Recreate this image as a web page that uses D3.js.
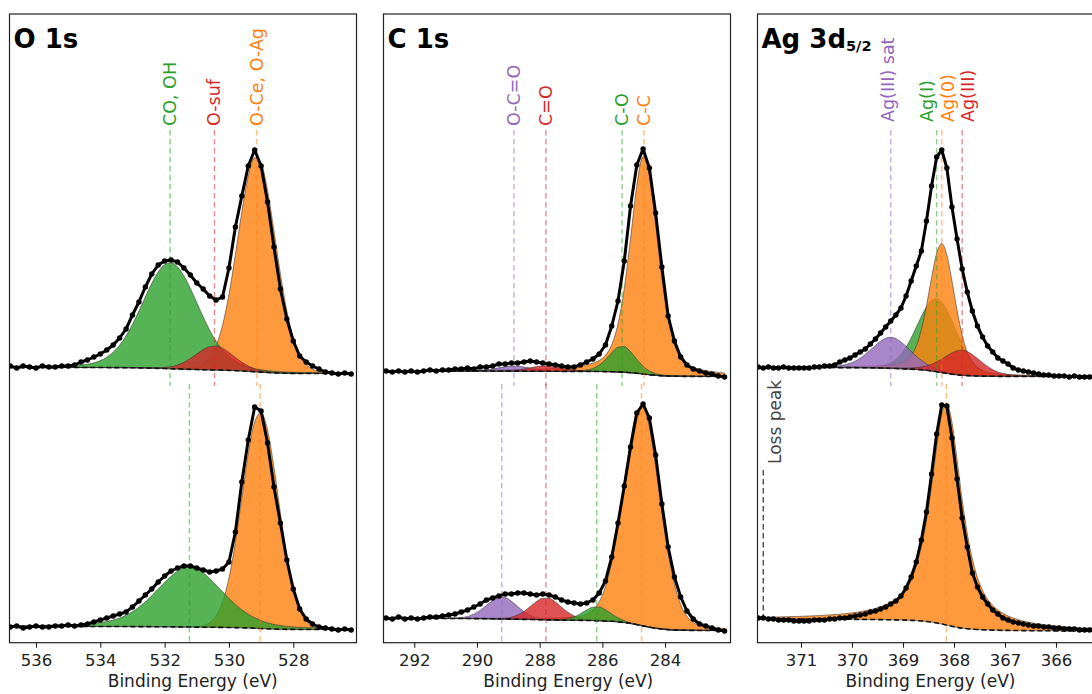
<!DOCTYPE html>
<html><head><meta charset="utf-8">
<script src="https://cdn.jsdelivr.net/npm/d3@7"></script>
<style>
html,body{margin:0;padding:0;background:#fff;overflow:hidden}
svg{display:block;font-family:"DejaVu Sans",sans-serif}
</style></head><body>
<svg id="chart" width="1092" height="694"></svg>
<script>
// ================= DATA (intensity in arbitrary units, spectra stacked with an offset) =================
const o1sEnergy = [536.8,536.6,536.4,536.2,536.0,535.8,535.6,535.4,535.2,535.0,534.8,534.6,534.4,534.2,534.0,533.8,533.6,533.4,533.2,533.0,532.8,532.6,532.4,532.2,532.0,531.8,531.6,531.4,531.2,531.0,530.8,530.6,530.4,530.2,530.0,529.8,529.6,529.4,529.2,529.0,528.8,528.6,528.4,528.2,528.0,527.8,527.6,527.4,527.2,527.0,526.8,526.6,526.4,526.2];
const o1sTopCounts = [277,275,277,276,275,277,276,276,277,277,278,281,283,286,289,293,298,305,314,328,341,356,369,378,382,383,381,375,368,360,354,347,343,346,375,416,447,477,493,477,441,396,354,324,302,287,281,277,274,271,270,269,270,269];
const o1sBottomCounts = [16,17,15,16,17,16,16,17,17,18,17,18,19,21,23,25,27,29,31,36,42,48,54,61,67,72,75,77,77,75,73,71,72,74,81,111,161,203,236,232,200,156,120,83,54,34,24,19,16,15,14,13,14,13];

const c1sEnergy = [292.9,292.7,292.5,292.3,292.1,291.9,291.7,291.5,291.3,291.1,290.9,290.7,290.5,290.3,290.1,289.9,289.7,289.5,289.3,289.1,288.9,288.7,288.5,288.3,288.1,287.9,287.7,287.5,287.3,287.1,286.9,286.7,286.5,286.3,286.1,285.9,285.7,285.5,285.3,285.1,284.9,284.7,284.5,284.3,284.1,283.9,283.7,283.5,283.3,283.1,282.9,282.7,282.5,282.3,282.1];
const c1sTopCounts = [272,271,272,271,272,271,272,273,272,273,273,274,274,275,274,276,276,277,279,279,280,280,281,282,281,280,279,278,277,276,276,278,281,284,289,298,317,342,382,437,478,494,475,430,376,327,302,286,278,274,272,270,269,267,266];
const c1sBottomCounts = [25,24,26,24,25,24,25,26,26,27,28,29,31,33,36,39,43,45,47,49,49,50,50,49,48,49,48,46,43,41,40,39,40,43,50,62,86,120,157,196,230,239,225,188,139,96,66,46,32,24,19,17,15,13,12];

const agEnergy = [371.84,371.74,371.64,371.54,371.44,371.34,371.24,371.14,371.04,370.94,370.84,370.74,370.64,370.54,370.44,370.34,370.24,370.14,370.04,369.94,369.84,369.74,369.64,369.54,369.44,369.34,369.24,369.14,369.04,368.94,368.84,368.74,368.64,368.54,368.44,368.34,368.24,368.14,368.04,367.94,367.84,367.74,367.64,367.54,367.44,367.34,367.24,367.14,367.04,366.94,366.84,366.74,366.64,366.54,366.44,366.34,366.24,366.14,366.04,365.94,365.84,365.74,365.64,365.54,365.44,365.34,365.24];
const agTopCounts = [276,275,276,275,275,276,275,275,275,275,275,276,276,277,277,278,281,283,285,288,291,294,299,304,310,316,322,328,335,347,362,377,392,422,457,486,493,475,436,404,374,351,332,317,306,297,291,285,282,279,275,273,272,271,270,269,268,268,267,267,267,266,267,266,266,266,266];
const agBottomCounts = [25,25,24,24,23,23,23,22,22,22,22,23,23,23,24,24,25,25,26,27,28,29,31,32,34,36,39,42,47,55,66,81,103,131,169,209,238,237,205,164,125,96,70,56,46,39,33,29,25,23,21,20,19,18,17,17,16,16,15,15,14,14,14,13,13,13,13];

// Fitted components (pseudo-Voigt): centre (eV), height, FWHM (eV), Lorentzian fraction. Listed in drawing order.
const o1sTopPeaks = [
  {name:"O-Ce, O-Ag", centre:529.14, height:215, fwhm:1.40, eta:0.05},
  {name:"CO, OH",     centre:531.83, height:106, fwhm:2.05, eta:0.15},
  {name:"O-suf",      centre:530.45, height:24,  fwhm:1.40, eta:0.10}
];
const o1sBottomPeaks = [
  {name:"O-Ce, O-Ag", centre:529.03, height:216, fwhm:1.33, eta:0.00},
  {name:"CO, OH",     centre:531.23, height:60,  fwhm:2.40, eta:0.30}
];
const c1sTopPeaks = [
  {name:"C-C",   centre:284.67, height:218, fwhm:1.05, eta:0.4},
  {name:"C-O",   centre:285.37, height:26,  fwhm:1.00, eta:0.2},
  {name:"O-C=O", centre:288.82, height:5,   fwhm:1.20, eta:0.1},
  {name:"C=O",   centre:287.80, height:5.5, fwhm:1.20, eta:0.1}
];
const c1sBottomPeaks = [
  {name:"C-C",   centre:284.75, height:221, fwhm:1.36, eta:0.15},
  {name:"O-C=O", centre:289.21, height:22,  fwhm:1.15, eta:0.1},
  {name:"C=O",   centre:287.80, height:22,  fwhm:1.15, eta:0.1},
  {name:"C-O",   centre:286.18, height:14,  fwhm:1.00, eta:0.1}
];
const agTopPeaks = [
  {name:"Ag(I)",       centre:368.34, height:73,  fwhm:0.90, eta:0.1},
  {name:"Ag(0)",       centre:368.24, height:129, fwhm:0.60, eta:0.3},
  {name:"Ag(III) sat", centre:369.24, height:31,  fwhm:0.90, eta:0.2},
  {name:"Ag(III)",     centre:367.84, height:25,  fwhm:0.85, eta:0.2}
];
const agBottomPeaks = [
  {name:"Ag(0)", centre:368.15, height:222, fwhm:0.72, eta:0.8}
];
const lossPeak = {name:"Loss peak", energy:371.74, low:25, high:173};

// Shirley background end levels: [high binding energy side, low binding energy side]
const o1sTopBackground = [275.5, 269.5];
const o1sBottomBackground = [16.5, 13.5];
const c1sTopBackground = [272, 266.5];
const c1sBottomBackground = [24.5, 12.5];
const agTopBackground = [275.5, 266.5];
const agBottomBackground = [24, 12];

// Axis ticks
const o1sTicks = [536, 534, 532, 530, 528];
const c1sTicks = [292, 290, 288, 286, 284];
const agTicks = [371, 370, 369, 368, 367, 366];
const o1sDomain = [536.824, 526.034];
const c1sDomain = [292.982, 281.911];
const agDomain = [371.853, 365.049];

// ================= STYLE / LAYOUT =================
const palette = {green:"#2ca02c", orange:"#ff7f0e", red:"#d62728", purple:"#9467bd"};
const peakColour = {
  "CO, OH":"green", "O-suf":"red", "O-Ce, O-Ag":"orange",
  "O-C=O":"purple", "C=O":"red", "C-O":"green", "C-C":"orange",
  "Ag(III) sat":"purple", "Ag(I)":"green", "Ag(0)":"orange", "Ag(III)":"red"
};
const frameTop = 14, frameBottom = 642.7, panelW = 347;
const panels = [
  {title:"O 1s", sub:null, left:9.5, domain:o1sDomain, ticks:o1sTicks, energy:o1sEnergy,
   spectra:[{counts:o1sTopCounts, peaks:o1sTopPeaks, bg:o1sTopBackground, top:true},
            {counts:o1sBottomCounts, peaks:o1sBottomPeaks, bg:o1sBottomBackground, top:false}],
   labelY:126, labelShift:{}, xlabelX:192.7},
  {title:"C 1s", sub:null, left:383.5, domain:c1sDomain, ticks:c1sTicks, energy:c1sEnergy,
   spectra:[{counts:c1sTopCounts, peaks:c1sTopPeaks, bg:c1sTopBackground, top:true},
            {counts:c1sBottomCounts, peaks:c1sBottomPeaks, bg:c1sBottomBackground, top:false}],
   labelY:126, labelShift:{}, xlabelX:568.3},
  {title:"Ag 3d", sub:"5/2", left:757.5, domain:agDomain, ticks:agTicks, energy:agEnergy,
   spectra:[{counts:agTopCounts, peaks:agTopPeaks, bg:agTopBackground, top:true},
            {counts:agBottomCounts, peaks:agBottomPeaks, bg:agBottomBackground, top:false}],
   labelY:122, labelShift:{"Ag(III) sat":-3, "Ag(I)":-10, "Ag(0)":6, "Ag(III)":6}, xlabelX:930.5, loss:lossPeak}
];
const topLine = [130, 386], bottomLine = [384, frameBottom];

// ================= HELPERS =================
function pv(p, e) {
  const t = 4 * (e - p.centre) * (e - p.centre) / (p.fwhm * p.fwhm);
  return p.height * (p.eta / (1 + t) + (1 - p.eta) * Math.exp(-Math.LN2 * t));
}
function shirley(energy, peaks, levels) {
  const tot = energy.map(e => d3.sum(peaks, p => pv(p, e)));
  const n = energy.length, cum = new Array(n).fill(0);
  for (let i = n - 2; i >= 0; i--) cum[i] = cum[i + 1] + (tot[i] + tot[i + 1]) / 2;
  const total = cum[0] || 1;
  return energy.map((e, i) => levels[1] + (levels[0] - levels[1]) * cum[i] / total);
}

// ================= DRAW =================
const svg = d3.select("#chart");
const defs = svg.append("defs");
const y = d3.scaleLinear().domain([0.3, 629]).range([frameBottom, frameTop]);

panels.forEach((P, pi) => {
  const x = d3.scaleLinear().domain(P.domain).range([P.left, P.left + panelW]);
  const clipId = "clip" + pi;
  defs.append("clipPath").attr("id", clipId).append("rect")
    .attr("x", P.left).attr("y", frameTop).attr("width", panelW).attr("height", frameBottom - frameTop);
  const g = svg.append("g");
  const plot = g.append("g").attr("clip-path", `url(#${clipId})`);

  P.spectra.forEach(S => {
    const bg = shirley(P.energy, S.peaks, S.bg);
    const idx = d3.range(P.energy.length);
    S.peaks.forEach(p => {
      const area = d3.area().curve(d3.curveMonotoneX)
        .x(i => x(P.energy[i])).y0(i => y(bg[i])).y1(i => y(bg[i] + pv(p, P.energy[i])));
      plot.append("path").attr("d", area(idx))
        .attr("fill", palette[peakColour[p.name]]).attr("fill-opacity", 0.8)
        .attr("stroke", "#333").attr("stroke-opacity", 0.7).attr("stroke-width", 0.8);
    });
    const bgLine = d3.line().curve(d3.curveMonotoneX).x(i => x(P.energy[i])).y(i => y(bg[i]));
    plot.append("path").attr("d", bgLine(idx)).attr("fill", "none")
      .attr("stroke", "#111").attr("stroke-width", 1.6).attr("stroke-dasharray", "5,3");
    S.peaks.forEach(p => {
      const yy = S.top ? topLine : bottomLine;
      plot.append("line").attr("x1", x(p.centre)).attr("x2", x(p.centre))
        .attr("y1", yy[0]).attr("y2", yy[1])
        .attr("stroke", palette[peakColour[p.name]]).attr("stroke-opacity", 0.5)
        .attr("stroke-width", 1.5).attr("stroke-dasharray", "5.5,3.5");
      if (S.top) {
        const lx = x(p.centre) + (P.labelShift[p.name] || 0);
        g.append("text").attr("transform", `translate(${lx},${P.labelY}) rotate(-90)`)
          .attr("text-anchor", "start").attr("dominant-baseline", "central")
          .attr("font-size", 17.5).attr("fill", palette[peakColour[p.name]]).text(p.name);
      }
    });
  });

  if (P.loss) {
    const lx = x(P.loss.energy);
    plot.append("line").attr("x1", lx).attr("x2", lx).attr("y1", y(P.loss.high)).attr("y2", y(P.loss.low))
      .attr("stroke", "#555").attr("stroke-width", 1.5).attr("stroke-dasharray", "5.5,3.5");
    g.append("text").attr("transform", `translate(${lx + 12},${y(P.loss.high) - 6}) rotate(-90)`)
      .attr("text-anchor", "start").attr("dominant-baseline", "central")
      .attr("font-size", 17).attr("fill", "#444").text(P.loss.name);
  }

  P.spectra.forEach(S => {
    const line = d3.line().x((d, i) => x(P.energy[i])).y(d => y(d));
    plot.append("path").attr("d", line(S.counts)).attr("fill", "none")
      .attr("stroke", "#000").attr("stroke-width", 3).attr("stroke-linejoin", "round");
    plot.append("g").selectAll("circle").data(S.counts).join("circle")
      .attr("cx", (d, i) => x(P.energy[i])).attr("cy", d => y(d)).attr("r", 2.7).attr("fill", "#000");
  });

  g.append("rect").attr("x", P.left).attr("y", frameTop).attr("width", panelW)
    .attr("height", frameBottom - frameTop).attr("fill", "none").attr("stroke", "#222").attr("stroke-width", 1.2);

  const axis = d3.axisBottom(x).tickValues(P.ticks).tickSize(5).tickPadding(4).tickFormat(d3.format("d"));
  const ax = g.append("g").attr("transform", `translate(0,${frameBottom})`).call(axis);
  ax.select(".domain").remove();
  ax.selectAll(".tick line").attr("stroke", "#222").attr("stroke-width", 1.1);
  ax.selectAll(".tick text").attr("font-size", 16.5).attr("fill", "#222")
    .attr("font-family", '"DejaVu Sans",sans-serif').attr("dy", null).attr("y", 23.8);

  g.append("text").attr("x", P.xlabelX).attr("y", 687).attr("text-anchor", "middle")
    .attr("font-size", 17).attr("fill", "#222").text("Binding Energy (eV)");

  const t = g.append("text").attr("x", P.left + 4).attr("y", 48)
    .attr("font-size", 26).attr("font-weight", "bold").attr("fill", "#000").text(P.title);
  if (P.sub) t.append("tspan").attr("font-size", 14.5).attr("dy", 3).text(P.sub);
});
</script>
</body></html>
